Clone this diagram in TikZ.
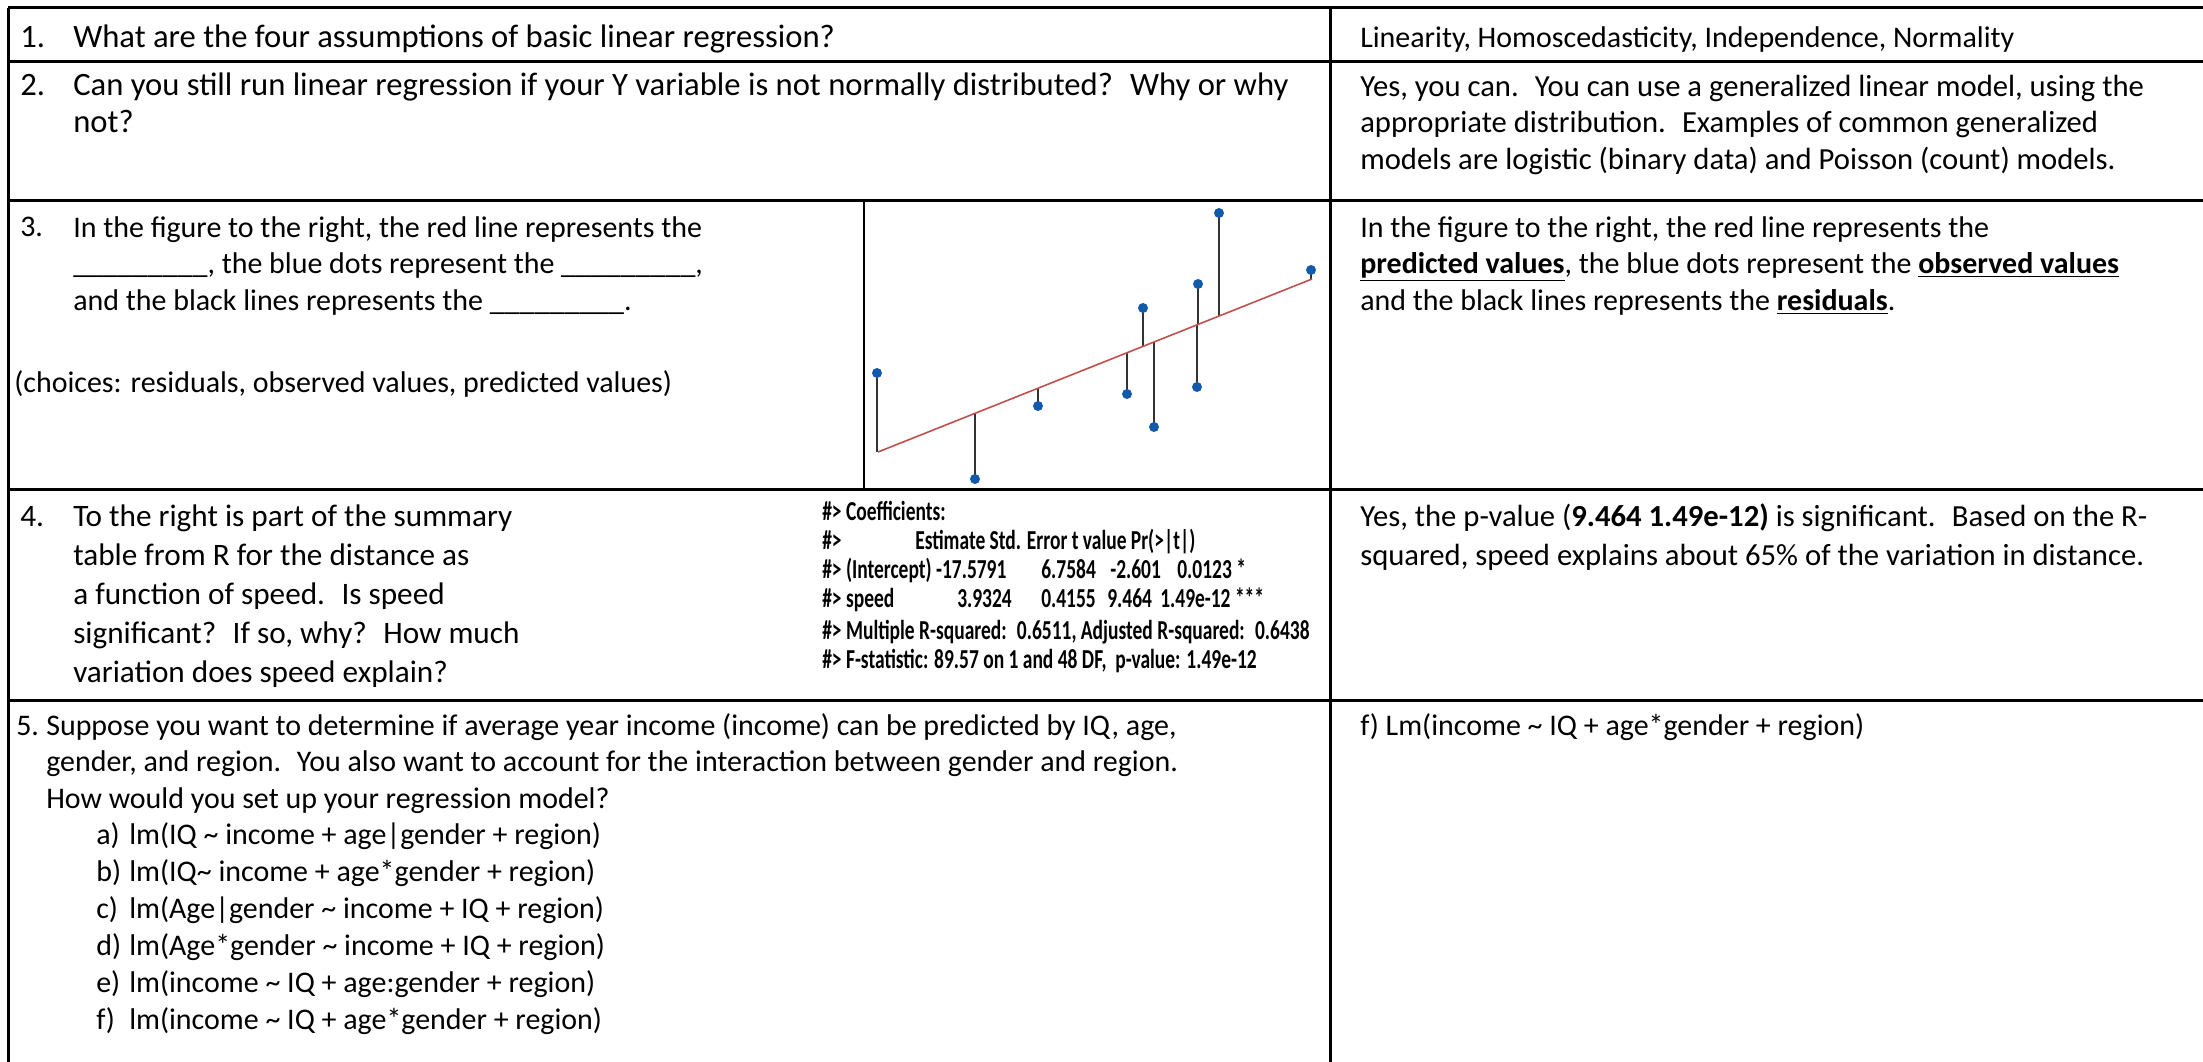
\documentclass[tikz,border=0pt]{standalone}
\usepackage{fontspec}
\setmainfont{Carlito}
\newfontfamily\rcode[FakeStretch=0.71]{Carlito}
\newlength\pxu
\setlength\pxu{0.025cm}
\definecolor{dotblue}{RGB}{20,90,170}
\definecolor{fitred}{RGB}{192,80,77}

\begin{document}
\begin{tikzpicture}[
    x=0.025cm, y=-0.025cm,
    grid/.style={line width=3\pxu, black},
    cell/.style={anchor=base west, inner sep=0pt, align=left, font=\fontsize{21.3}{26.2}\selectfont},
    bigcell/.style={cell, font=\fontsize{23.2}{26.2}\selectfont},
    rout/.style={anchor=base west, inner sep=0pt, align=left, font=\rcode\bfseries\fontsize{19.5}{20.5}\selectfont},
    resid/.style={line width=2\pxu, black!80},
    fit/.style={line width=1.6\pxu, fitred},
]
\useasboundingbox (0,0) rectangle (2203,1062);

% Table grid
\draw[grid] (8,8) -- (2203,8);
\foreach \ry in {62,201,490,700}
    \draw[grid] (8,\ry) -- (2203,\ry);
\draw[grid] (8,8) -- (8,1062);
\draw[grid] (1330,8) -- (1330,1062);

% Row 1
\node[bigcell] (n1) at (20,48) {1.};
\node[bigcell] (q1) at (73,48) {What are the four assumptions of basic linear regression?};
\node[cell] (a1) at (1360,48) {Linearity, Homoscedasticity, Independence, Normality};

% Row 2 (nodes sit on their last baseline)
\node[bigcell] (n2) at (20,96) {2.};
\node[bigcell] (q2) at (73,132.8) {Can you still run linear regression if your Y variable is not normally distributed?~ Why or why\\not?};
\node[cell, font=\fontsize{21.8}{26.2}\selectfont] (a2) at (1360,169.7) {Yes, you can.~ You can use a generalized linear model, using the\\appropriate distribution.~ Examples of common generalized\\models are logistic (binary data) and Poisson (count) models.};

% Row 3
\node[cell] (n3) at (20,237) {3.};
\node[cell] (q3) at (73,310.7) {In the figure to the right, the red line represents the\\\_\_\_\_\_\_\_\_\_, the blue dots represent the \_\_\_\_\_\_\_\_\_,\\and the black lines represents the \_\_\_\_\_\_\_\_\_.};
\node[cell] (choices) at (14,393) {(choices: residuals, observed values, predicted values)};
\node[cell] (a3) at (1360,310.7) {In the figure to the right, the red line represents the\\\underline{\textbf{predicted values}}, the blue dots represent the \underline{\textbf{observed values}}\\and the black lines represents the \underline{\textbf{residuals}}.};

% Regression plot
\draw[line width=1.5\pxu] (864,201) rectangle (1330,490);
\foreach \px/\py/\pf in {877/373/452, 975/479/413, 1038/406/388, 1127/394/353, 1143/308/346,
                         1154/427/342, 1198/284/325, 1197/387/325, 1219/213/316, 1311/270/280}
    \draw[resid] (\px,\py) -- (\px,\pf);
\draw[fit] (878,452) -- (1312,279);
\foreach \px/\py in {877/373, 975/479, 1038/406, 1127/394, 1143/308,
                     1154/427, 1198/284, 1197/387, 1219/213, 1311/270}
    \fill[dotblue] (\px,\py) circle[radius=5\pxu];

% Row 4
\node[cell, font=\fontsize{22.2}{27.6}\selectfont] (n4) at (20,527) {4.};
\node[cell, font=\fontsize{22.2}{27.6}\selectfont] (q4) at (73,682.2) {To the right is part of the summary\\table from R for the distance as\\a function of speed.~ Is speed\\significant?~ If so, why?~ How much\\variation does speed explain?};
\node[rout] (rsum) at (822,668.1) {\#> Coefficients:\\
\makebox[93\pxu][l]{\#>}Estimate Std. Error t value Pr(>|t|)\\
\makebox[219\pxu][l]{\#> (Intercept) -17.5791}\makebox[69\pxu][l]{6.7584}\makebox[67\pxu][l]{-2.601}0.0123 *\\
\makebox[135\pxu][l]{\#> speed}\makebox[84\pxu][l]{3.9324}\makebox[66\pxu][l]{0.4155}\makebox[53\pxu][l]{9.464}1.49e-12 ***\\[3\pxu]
\#> Multiple R-squared:~ 0.6511, Adjusted R-squared:~ 0.6438\\
\#> F-statistic: 89.57 on 1 and 48 DF,~ p-value: 1.49e-12};
\node[cell, font=\fontsize{21.8}{27.6}\selectfont] (a4) at (1360,565.8) {Yes, the p-value (\textbf{9.464 1.49e-12)} is significant.~ Based on the R-\\squared, speed explains about 65\% of the variation in distance.};

% Row 5
\node[cell] (n5) at (16,735) {5.};
\node[cell] (q5) at (46,808.7) {Suppose you want to determine if average year income (income) can be predicted by IQ, age,\\gender, and region.~ You also want to account for the interaction between gender and region.\\How would you set up your regression model?};
\node[cell] (opts) at (96,1029.2) {\makebox[33\pxu][l]{a)}lm(IQ \textasciitilde{} income + age|gender + region)\\
\makebox[33\pxu][l]{b)}lm(IQ\textasciitilde{} income + age*gender + region)\\
\makebox[33\pxu][l]{c)}lm(Age|gender \textasciitilde{} income + IQ + region)\\
\makebox[33\pxu][l]{d)}lm(Age*gender \textasciitilde{} income + IQ + region)\\
\makebox[33\pxu][l]{e)}lm(income \textasciitilde{} IQ + age:gender + region)\\
\makebox[33\pxu][l]{f)}lm(income \textasciitilde{} IQ + age*gender + region)};
\node[cell] (a5) at (1360,735) {f) Lm(income \textasciitilde{} IQ + age*gender + region)};
\end{tikzpicture}
\end{document}
